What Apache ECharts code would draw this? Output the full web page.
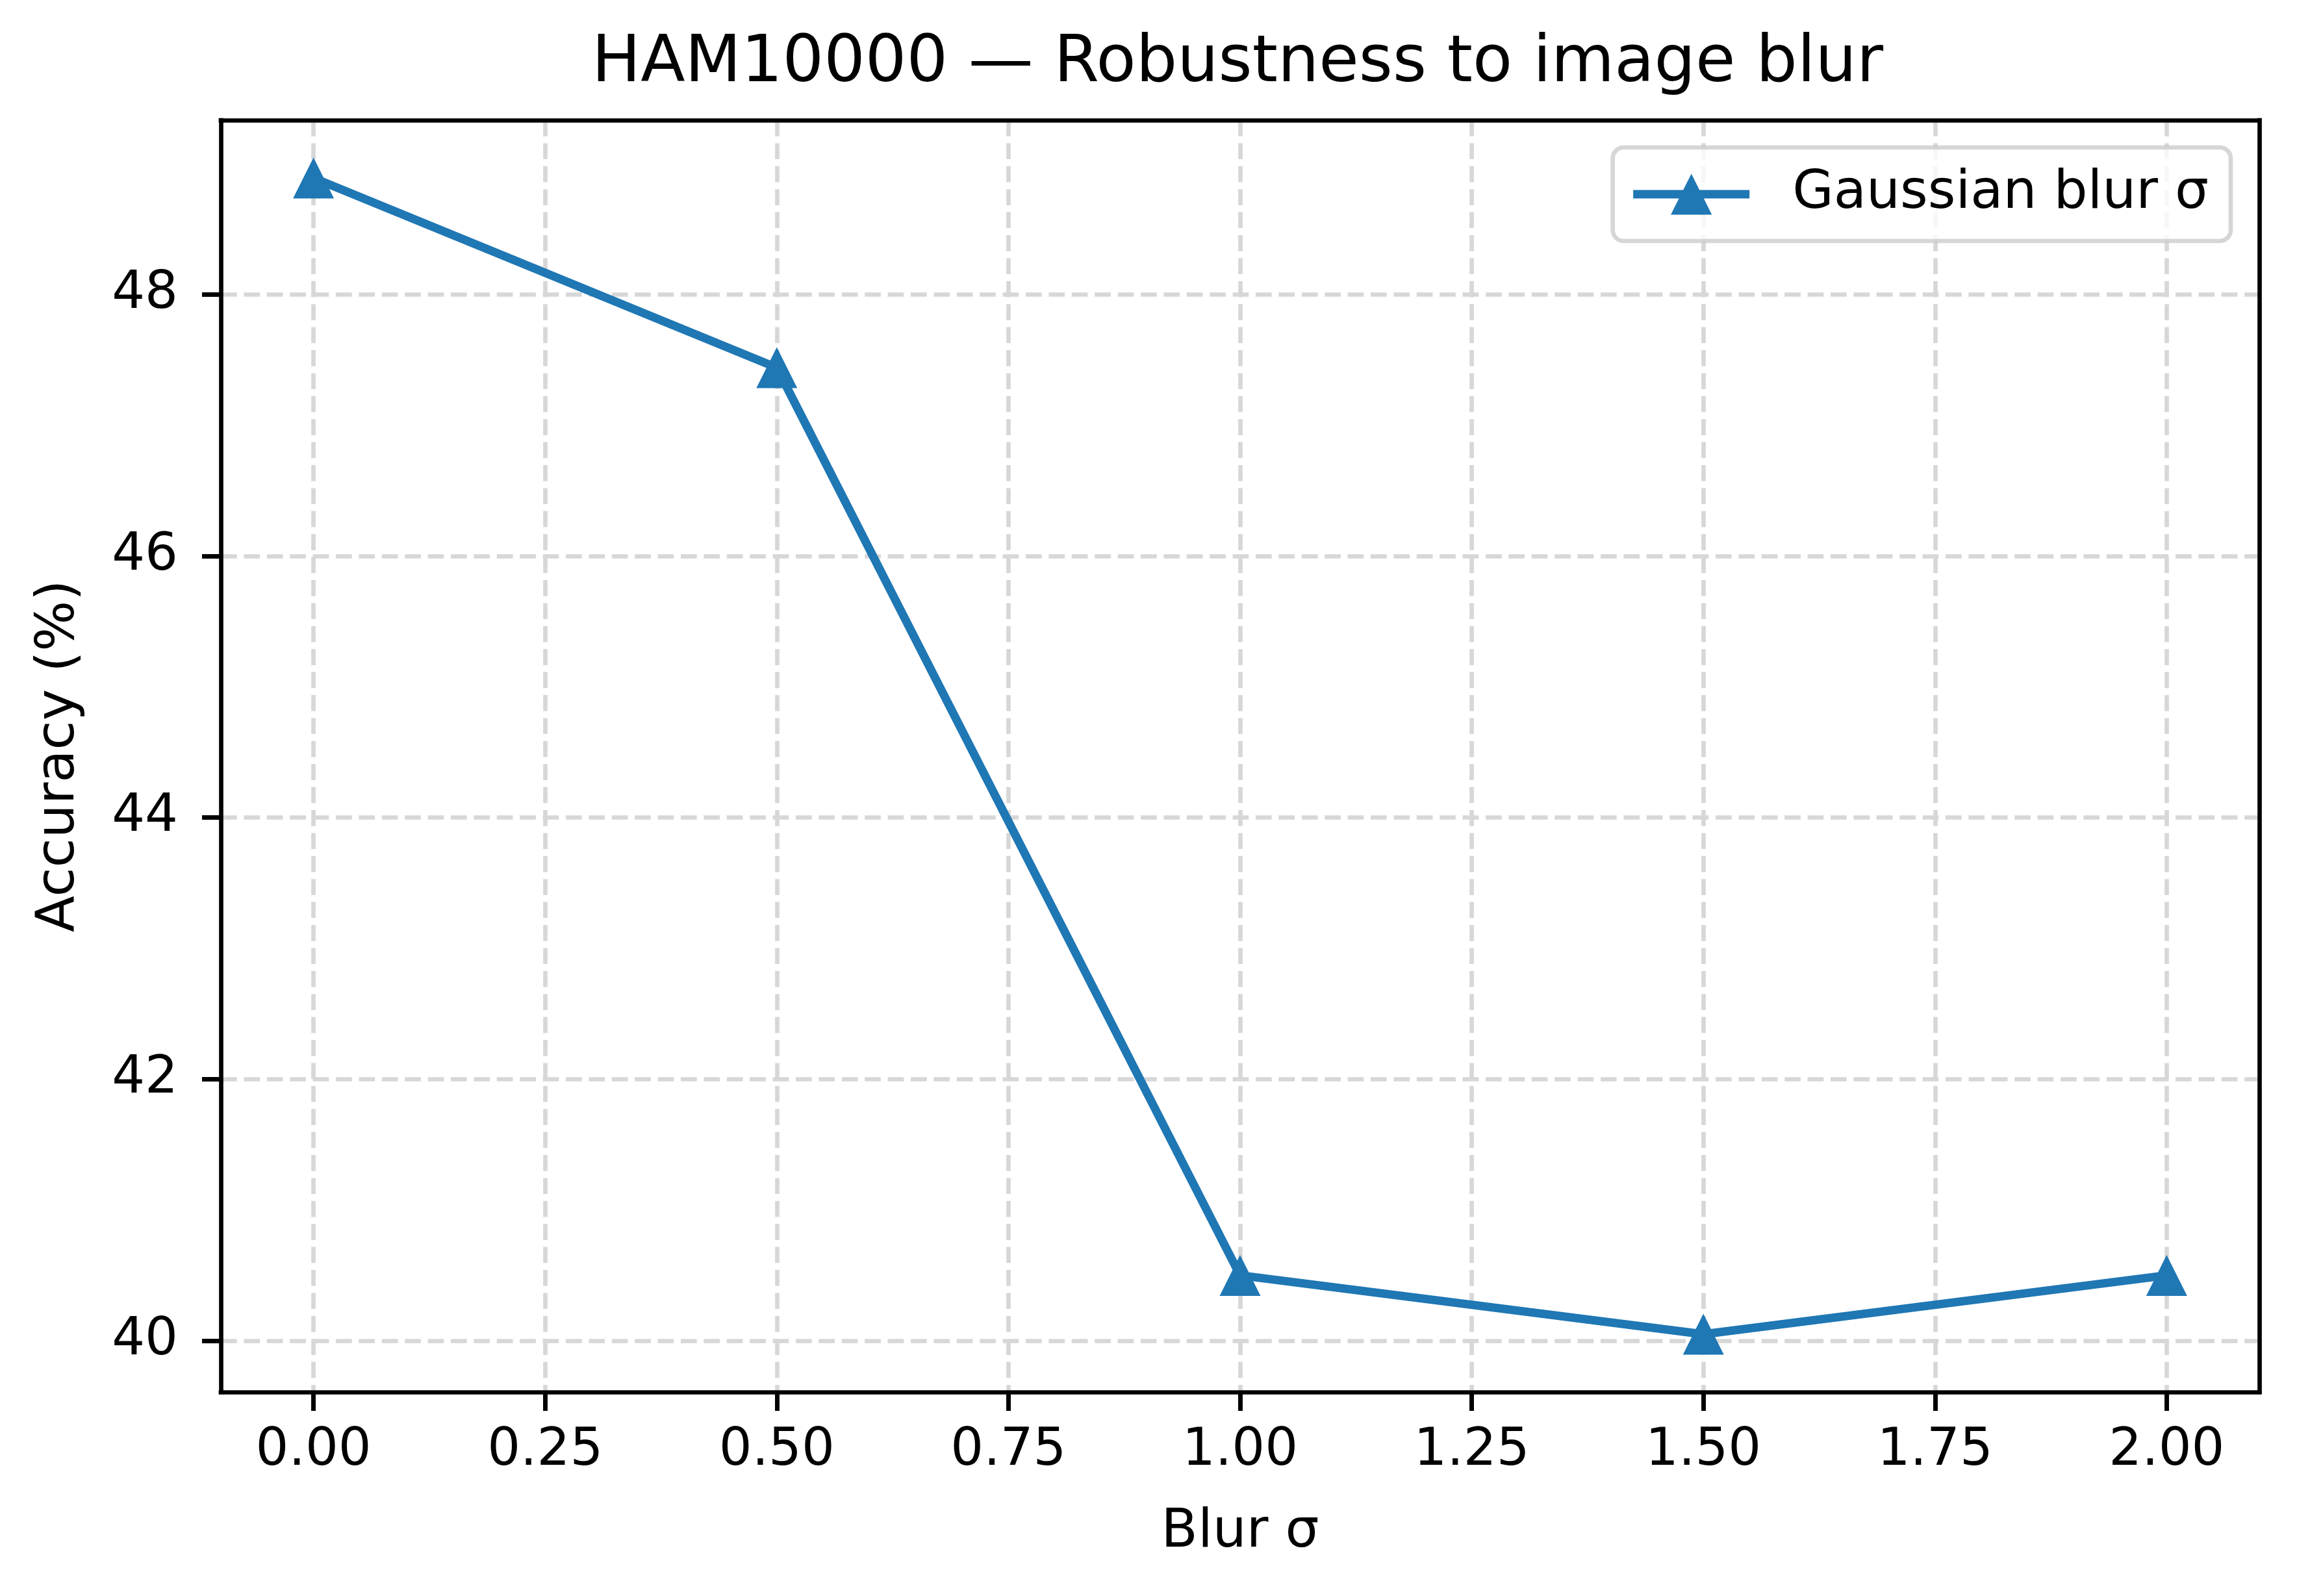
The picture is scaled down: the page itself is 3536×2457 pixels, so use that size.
<!DOCTYPE html>
<html><head><meta charset="utf-8">
<script src="https://cdn.jsdelivr.net/npm/echarts@6/dist/echarts.min.js"></script>
<style>html,body{margin:0;padding:0;background:#fff}#c{width:3536px;height:2457px}</style>
</head><body><div id="c"></div>
<script>
const blurSigma = [0, 0.5, 1.0, 1.5, 2.0];
const accuracy = [48.89, 47.44, 40.50, 40.05, 40.50];
const xTicks = [0, 0.25, 0.5, 0.75, 1.0, 1.25, 1.5, 1.75, 2.0];
const yTicks = [40, 42, 44, 46, 48];
const titleText = 'HAM10000 — Robustness to image blur';
const xName = 'Blur σ';
const yName = 'Accuracy (%)';
const seriesName = 'Gaussian blur σ';

const FONT = 'DejaVu Sans';
const W = 3536, H = 2457;
const G = { left: 340, right: 58, top: 185, bottom: 314 };   // plot frame
const T = 29;                                               // tick length, outside the frame
const plotW = W - G.left - G.right, plotH = H - G.top - G.bottom;

const xMin = -0.1, xMax = 2.1;
const yLo = Math.min(...accuracy), yHi = Math.max(...accuracy);
const yMin = yLo - (yHi - yLo) * 0.05, yMax = yHi + (yHi - yLo) * 0.05;
const xMinExt = xMin - T * (xMax - xMin) / plotW;
const yMinExt = yMin - T * (yMax - yMin) / plotH;

const CLEAR = 'rgba(0,0,0,0)';
const gridLine = { show: true, lineStyle: { color: '#d7d7d7', width: 6.67, type: [24.7, 10.7] } };
const tickLine = { color: '#000', width: 6.67 };
const frameLine = { show: true, onZero: false, lineStyle: { color: '#000', width: 6.67, cap: 'square' } };
const frameAxis = (grid, pos, min, max) => ({
  type: 'value', gridIndex: grid, position: pos, min: min, max: max, z: 10,
  axisLine: frameLine, axisTick: { show: false }, axisLabel: { show: false }, splitLine: { show: false }
});
const hiddenAxis = (grid, pos, min, max) => ({
  type: 'value', gridIndex: grid, position: pos, min: min, max: max,
  axisLine: { show: false, onZero: false }, axisTick: { show: false }, axisLabel: { show: false }, splitLine: { show: false }
});
// data grid (0): widened by T, inside ticks sit just outside the frame
const dataAxis = (pos, min, max, ticks) => ({
  type: 'value', gridIndex: 0, position: pos, min: min, max: max,
  axisLine: { show: true, onZero: false, lineStyle: { color: CLEAR, width: 1 } },
  axisTick: { show: true, inside: true, length: T, customValues: ticks, lineStyle: tickLine },
  axisLabel: { show: true, customValues: ticks, color: CLEAR, fontSize: 10 },
  splitLine: { show: false }
});
// on-zero tick axes: the zero of the companion axis is the frame edge, ticks point outward
const zeroTickAxis = (grid, pos, min, max, ticks) => ({
  type: 'value', gridIndex: grid, position: pos, min: min, max: max,
  axisLine: { show: false, onZero: true },
  axisTick: { show: true, inside: false, length: T, customValues: ticks, lineStyle: tickLine },
  axisLabel: { show: true, customValues: ticks, color: CLEAR, fontSize: 10 },
  splitLine: { show: false }
});

const chart = echarts.init(document.getElementById('c'), null, { renderer: 'canvas' });
chart.setOption({
  animation: false,
  backgroundColor: '#fff',
  title: {
    text: titleText, left: 911, top: 49, padding: 0,
    textStyle: { fontFamily: FONT, fontSize: 100, fontWeight: 'normal', color: '#000', lineHeight: 100 }
  },
  grid: [
    { left: G.left - T, right: G.right, top: G.top, bottom: G.bottom - T, show: false },   // 0 data
    { left: G.left, right: G.right, top: G.top, bottom: G.bottom, show: false },           // 1 labels + gridlines
    { left: G.left, right: G.right, top: G.top, bottom: G.bottom, show: false },           // 2 frame
    { left: G.left - T, right: G.right, top: G.top, bottom: G.bottom, show: false },       // 3 y ticks
    { left: G.left, right: G.right, top: G.top, bottom: G.bottom - T, show: false }        // 4 x ticks
  ],
  legend: {
    data: [seriesName], right: 102, top: 227, padding: [31, 34, 31, 25],
    itemWidth: 179, itemHeight: 79,
    lineStyle: { width: 13, color: '#1f77b4' },
    itemStyle: { color: '#1f77b4' },
    backgroundColor: 'rgba(255,255,255,0.8)', borderColor: 'rgba(204,204,204,0.8)', borderWidth: 6.67, borderRadius: 17,
    textStyle: { fontFamily: FONT, fontSize: 82, color: '#000', lineHeight: 82, padding: [0, 0, 0, 61] }
  },
  xAxis: [
    dataAxis('bottom', xMinExt, xMax, xTicks),
    {
      type: 'value', gridIndex: 1, position: 'bottom', min: xMin, max: xMax,
      name: xName, nameLocation: 'middle', nameGap: 176,
      nameTextStyle: { fontFamily: FONT, fontSize: 82, color: '#000' },
      axisLine: { show: false, onZero: false }, axisTick: { show: false, customValues: xTicks },
      axisLabel: { customValues: xTicks, margin: 51, fontFamily: FONT, fontSize: 80, color: '#000',
        formatter: v => v.toFixed(2) },
      splitLine: Object.assign({ customValues: xTicks }, gridLine)
    },
    frameAxis(1, 'top', xMin, xMax),
    frameAxis(2, 'bottom', xMin, xMax),
    hiddenAxis(3, 'bottom', -T, plotW),
    zeroTickAxis(4, 'bottom', xMin, xMax, xTicks)
  ],
  yAxis: [
    dataAxis('left', yMinExt, yMax, yTicks),
    {
      type: 'value', gridIndex: 1, position: 'left', min: yMin, max: yMax,
      name: yName, nameLocation: 'middle', nameGap: 207,
      nameTextStyle: { fontFamily: FONT, fontSize: 82, color: '#000' },
      axisLine: { show: false, onZero: false }, axisTick: { show: false, customValues: yTicks },
      axisLabel: { customValues: yTicks, margin: 66, fontFamily: FONT, fontSize: 80, color: '#000',
        formatter: v => String(Math.round(v)) },
      splitLine: Object.assign({ customValues: yTicks }, gridLine)
    },
    frameAxis(1, 'right', yMin, yMax),
    frameAxis(2, 'left', yMin, yMax),
    zeroTickAxis(3, 'left', yMin, yMax, yTicks),
    hiddenAxis(4, 'left', -T, plotH)
  ],
  series: [{
    name: seriesName, type: 'line', xAxisIndex: 0, yAxisIndex: 0,
    data: blurSigma.map((x, i) => [x, accuracy[i]]),
    symbol: 'triangle', symbolSize: 63, showAllSymbol: true,
    lineStyle: { color: '#1f77b4', width: 13 },
    itemStyle: { color: '#1f77b4' },
    z: 5
  }]
});
</script></body></html>
